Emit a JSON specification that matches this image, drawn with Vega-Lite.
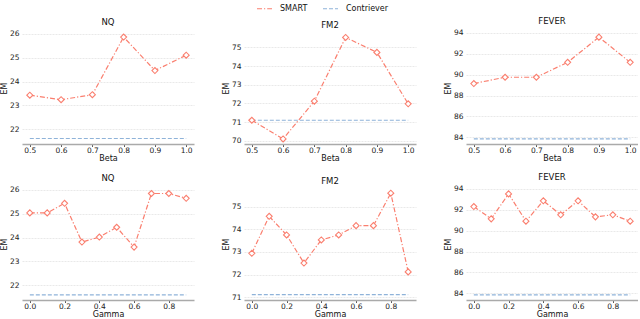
{
  "$schema": "https://vega.github.io/schema/vega-lite/v6.json",
  "padding": {"left": 0, "top": 0, "right": 0, "bottom": 0},
  "background": "white",
  "datasets": {
    "d": [
      {"panel": "NQ_b", "x": 0.5, "series": "SMART", "value": 23.43},
      {"panel": "NQ_b", "x": 0.6, "series": "SMART", "value": 23.24},
      {"panel": "NQ_b", "x": 0.7, "series": "SMART", "value": 23.45},
      {"panel": "NQ_b", "x": 0.8, "series": "SMART", "value": 25.86},
      {"panel": "NQ_b", "x": 0.9, "series": "SMART", "value": 24.46},
      {"panel": "NQ_b", "x": 1.0, "series": "SMART", "value": 25.1},
      {"panel": "NQ_b", "x": 0.5, "series": "Contriever", "value": 21.62},
      {"panel": "NQ_b", "x": 1.0, "series": "Contriever", "value": 21.62},
      {"panel": "FM2_b", "x": 0.5, "series": "SMART", "value": 71.1},
      {"panel": "FM2_b", "x": 0.6, "series": "SMART", "value": 70.1},
      {"panel": "FM2_b", "x": 0.7, "series": "SMART", "value": 72.12},
      {"panel": "FM2_b", "x": 0.8, "series": "SMART", "value": 75.53},
      {"panel": "FM2_b", "x": 0.9, "series": "SMART", "value": 74.73},
      {"panel": "FM2_b", "x": 1.0, "series": "SMART", "value": 71.98},
      {"panel": "FM2_b", "x": 0.5, "series": "Contriever", "value": 71.1},
      {"panel": "FM2_b", "x": 1.0, "series": "Contriever", "value": 71.1},
      {"panel": "FEVER_b", "x": 0.5, "series": "SMART", "value": 89.14},
      {"panel": "FEVER_b", "x": 0.6, "series": "SMART", "value": 89.74},
      {"panel": "FEVER_b", "x": 0.7, "series": "SMART", "value": 89.74},
      {"panel": "FEVER_b", "x": 0.8, "series": "SMART", "value": 91.16},
      {"panel": "FEVER_b", "x": 0.9, "series": "SMART", "value": 93.56},
      {"panel": "FEVER_b", "x": 1.0, "series": "SMART", "value": 91.16},
      {"panel": "FEVER_b", "x": 0.5, "series": "Contriever", "value": 83.87},
      {"panel": "FEVER_b", "x": 1.0, "series": "Contriever", "value": 83.87},
      {"panel": "NQ_g", "x": 0.0, "series": "SMART", "value": 25.03},
      {"panel": "NQ_g", "x": 0.1, "series": "SMART", "value": 25.03},
      {"panel": "NQ_g", "x": 0.2, "series": "SMART", "value": 25.43},
      {"panel": "NQ_g", "x": 0.3, "series": "SMART", "value": 23.81},
      {"panel": "NQ_g", "x": 0.4, "series": "SMART", "value": 24.02},
      {"panel": "NQ_g", "x": 0.5, "series": "SMART", "value": 24.43},
      {"panel": "NQ_g", "x": 0.6, "series": "SMART", "value": 23.6},
      {"panel": "NQ_g", "x": 0.7, "series": "SMART", "value": 25.84},
      {"panel": "NQ_g", "x": 0.8, "series": "SMART", "value": 25.84},
      {"panel": "NQ_g", "x": 0.9, "series": "SMART", "value": 25.64},
      {"panel": "NQ_g", "x": 0.0, "series": "Contriever", "value": 21.6},
      {"panel": "NQ_g", "x": 0.9, "series": "Contriever", "value": 21.6},
      {"panel": "FM2_g", "x": 0.0, "series": "SMART", "value": 72.94},
      {"panel": "FM2_g", "x": 0.1, "series": "SMART", "value": 74.57},
      {"panel": "FM2_g", "x": 0.2, "series": "SMART", "value": 73.75},
      {"panel": "FM2_g", "x": 0.3, "series": "SMART", "value": 72.51},
      {"panel": "FM2_g", "x": 0.4, "series": "SMART", "value": 73.53},
      {"panel": "FM2_g", "x": 0.5, "series": "SMART", "value": 73.75},
      {"panel": "FM2_g", "x": 0.6, "series": "SMART", "value": 74.16},
      {"panel": "FM2_g", "x": 0.7, "series": "SMART", "value": 74.16},
      {"panel": "FM2_g", "x": 0.8, "series": "SMART", "value": 75.59},
      {"panel": "FM2_g", "x": 0.9, "series": "SMART", "value": 72.12},
      {"panel": "FM2_g", "x": 0.0, "series": "Contriever", "value": 71.12},
      {"panel": "FM2_g", "x": 0.9, "series": "Contriever", "value": 71.12},
      {"panel": "FEVER_g", "x": 0.0, "series": "SMART", "value": 92.28},
      {"panel": "FEVER_g", "x": 0.1, "series": "SMART", "value": 91.11},
      {"panel": "FEVER_g", "x": 0.2, "series": "SMART", "value": 93.49},
      {"panel": "FEVER_g", "x": 0.3, "series": "SMART", "value": 90.89},
      {"panel": "FEVER_g", "x": 0.4, "series": "SMART", "value": 92.83},
      {"panel": "FEVER_g", "x": 0.5, "series": "SMART", "value": 91.5},
      {"panel": "FEVER_g", "x": 0.6, "series": "SMART", "value": 92.83},
      {"panel": "FEVER_g", "x": 0.7, "series": "SMART", "value": 91.3},
      {"panel": "FEVER_g", "x": 0.8, "series": "SMART", "value": 91.5},
      {"panel": "FEVER_g", "x": 0.9, "series": "SMART", "value": 90.89},
      {"panel": "FEVER_g", "x": 0.0, "series": "Contriever", "value": 83.87},
      {"panel": "FEVER_g", "x": 0.9, "series": "Contriever", "value": 83.87}
    ]
  },
  "data": {"name": "d"},
  "columns": 3,
  "spacing": {"row": 44, "column": 50},
  "bounds": "flush",
  "concat": [
    {
      "width": 172, "height": 112, "title": "NQ",
      "transform": [{"filter": "datum.panel == 'NQ_b'"}],
      "encoding": {
        "x": {"field": "x", "type": "quantitative", "title": "Beta", "scale": {"domain": [0.475, 1.025], "nice": false, "zero": false}, "axis": {"values": [0.5, 0.6, 0.7, 0.8, 0.9, 1.0], "format": ".1f"}},
        "y": {"field": "value", "type": "quantitative", "title": "EM", "scale": {"domain": [21.39, 26.07], "nice": false, "zero": false}, "axis": {"values": [22, 23, 24, 25, 26]}},
        "color": {"field": "series", "type": "nominal", "scale": {"domain": ["SMART", "Contriever"], "range": ["#FA7F6F", "#8FB3D9"]}, "legend": {"orient": "none", "legendX": 234, "legendY": -32, "direction": "horizontal", "title": null, "encode": {"symbols": {"update": {"shape": {"signal": "datum.value == 'SMART' ? 'M-1,0L-0.38,0M0.38,0L1,0M0,-0.38L0.38,0L0,0.38L-0.38,0Z' : 'M-1,0L-0.62,0M-0.24,0L0.24,0M0.62,0L1,0'"}, "fill": {"value": "white"}, "fillOpacity": {"value": 0}}}}}}
      },
      "layer": [
        {"mark": {"type": "line"}, "encoding": {"strokeDash": {"field": "series", "type": "nominal", "legend": null, "scale": {"domain": ["SMART", "Contriever"], "range": [[5, 2, 1.2, 2], [4, 2]]}}}},
        {"transform": [{"filter": "datum.series == 'SMART'"}], "mark": {"type": "point", "shape": "diamond", "filled": false, "fill": "white", "size": 36, "strokeWidth": 1.1, "opacity": 1}}
      ]
    },
    {
      "width": 172, "height": 112, "title": "FM2",
      "transform": [{"filter": "datum.panel == 'FM2_b'"}],
      "encoding": {
        "x": {"field": "x", "type": "quantitative", "title": "Beta", "scale": {"domain": [0.475, 1.025], "nice": false, "zero": false}, "axis": {"values": [0.5, 0.6, 0.7, 0.8, 0.9, 1.0], "format": ".1f"}},
        "y": {"field": "value", "type": "quantitative", "title": "EM", "scale": {"domain": [69.83, 75.82], "nice": false, "zero": false}, "axis": {"values": [70, 71, 72, 73, 74, 75]}},
        "color": {"field": "series", "type": "nominal", "scale": {"domain": ["SMART", "Contriever"], "range": ["#FA7F6F", "#8FB3D9"]}}
      },
      "layer": [
        {"mark": {"type": "line"}, "encoding": {"strokeDash": {"field": "series", "type": "nominal", "legend": null, "scale": {"domain": ["SMART", "Contriever"], "range": [[5, 2, 1.2, 2], [4, 2]]}}}},
        {"transform": [{"filter": "datum.series == 'SMART'"}], "mark": {"type": "point", "shape": "diamond", "filled": false, "fill": "white", "size": 36, "strokeWidth": 1.1, "opacity": 1}}
      ]
    },
    {
      "width": 172, "height": 112, "title": "FEVER",
      "transform": [{"filter": "datum.panel == 'FEVER_b'"}],
      "encoding": {
        "x": {"field": "x", "type": "quantitative", "title": "Beta", "scale": {"domain": [0.475, 1.025], "nice": false, "zero": false}, "axis": {"values": [0.5, 0.6, 0.7, 0.8, 0.9, 1.0], "format": ".1f"}},
        "y": {"field": "value", "type": "quantitative", "title": "EM", "scale": {"domain": [83.38, 94.05], "nice": false, "zero": false}, "axis": {"values": [84, 86, 88, 90, 92, 94]}},
        "color": {"field": "series", "type": "nominal", "scale": {"domain": ["SMART", "Contriever"], "range": ["#FA7F6F", "#8FB3D9"]}}
      },
      "layer": [
        {"mark": {"type": "line"}, "encoding": {"strokeDash": {"field": "series", "type": "nominal", "legend": null, "scale": {"domain": ["SMART", "Contriever"], "range": [[5, 2, 1.2, 2], [4, 2]]}}}},
        {"transform": [{"filter": "datum.series == 'SMART'"}], "mark": {"type": "point", "shape": "diamond", "filled": false, "fill": "white", "size": 36, "strokeWidth": 1.1, "opacity": 1}}
      ]
    },
    {
      "width": 172, "height": 112, "title": "NQ",
      "transform": [{"filter": "datum.panel == 'NQ_g'"}],
      "encoding": {
        "x": {"field": "x", "type": "quantitative", "title": "Gamma", "scale": {"domain": [-0.045, 0.945], "nice": false, "zero": false}, "axis": {"values": [0, 0.2, 0.4, 0.6, 0.8], "format": ".1f"}},
        "y": {"field": "value", "type": "quantitative", "title": "EM", "scale": {"domain": [21.39, 26.07], "nice": false, "zero": false}, "axis": {"values": [22, 23, 24, 25, 26]}},
        "color": {"field": "series", "type": "nominal", "scale": {"domain": ["SMART", "Contriever"], "range": ["#FA7F6F", "#8FB3D9"]}}
      },
      "layer": [
        {"mark": {"type": "line"}, "encoding": {"strokeDash": {"field": "series", "type": "nominal", "legend": null, "scale": {"domain": ["SMART", "Contriever"], "range": [[5, 2, 1.2, 2], [4, 2]]}}}},
        {"transform": [{"filter": "datum.series == 'SMART'"}], "mark": {"type": "point", "shape": "diamond", "filled": false, "fill": "white", "size": 36, "strokeWidth": 1.1, "opacity": 1}}
      ]
    },
    {
      "width": 172, "height": 112, "title": "FM2",
      "transform": [{"filter": "datum.panel == 'FM2_g'"}],
      "encoding": {
        "x": {"field": "x", "type": "quantitative", "title": "Gamma", "scale": {"domain": [-0.045, 0.945], "nice": false, "zero": false}, "axis": {"values": [0, 0.2, 0.4, 0.6, 0.8], "format": ".1f"}},
        "y": {"field": "value", "type": "quantitative", "title": "EM", "scale": {"domain": [70.88, 75.82], "nice": false, "zero": false}, "axis": {"values": [71, 72, 73, 74, 75]}},
        "color": {"field": "series", "type": "nominal", "scale": {"domain": ["SMART", "Contriever"], "range": ["#FA7F6F", "#8FB3D9"]}}
      },
      "layer": [
        {"mark": {"type": "line"}, "encoding": {"strokeDash": {"field": "series", "type": "nominal", "legend": null, "scale": {"domain": ["SMART", "Contriever"], "range": [[5, 2, 1.2, 2], [4, 2]]}}}},
        {"transform": [{"filter": "datum.series == 'SMART'"}], "mark": {"type": "point", "shape": "diamond", "filled": false, "fill": "white", "size": 36, "strokeWidth": 1.1, "opacity": 1}}
      ]
    },
    {
      "width": 172, "height": 112, "title": "FEVER",
      "transform": [{"filter": "datum.panel == 'FEVER_g'"}],
      "encoding": {
        "x": {"field": "x", "type": "quantitative", "title": "Gamma", "scale": {"domain": [-0.045, 0.945], "nice": false, "zero": false}, "axis": {"values": [0, 0.2, 0.4, 0.6, 0.8], "format": ".1f"}},
        "y": {"field": "value", "type": "quantitative", "title": "EM", "scale": {"domain": [83.38, 94.05], "nice": false, "zero": false}, "axis": {"values": [84, 86, 88, 90, 92, 94]}},
        "color": {"field": "series", "type": "nominal", "scale": {"domain": ["SMART", "Contriever"], "range": ["#FA7F6F", "#8FB3D9"]}}
      },
      "layer": [
        {"mark": {"type": "line"}, "encoding": {"strokeDash": {"field": "series", "type": "nominal", "legend": null, "scale": {"domain": ["SMART", "Contriever"], "range": [[5, 2, 1.2, 2], [4, 2]]}}}},
        {"transform": [{"filter": "datum.series == 'SMART'"}], "mark": {"type": "point", "shape": "diamond", "filled": false, "fill": "white", "size": 36, "strokeWidth": 1.1, "opacity": 1}}
      ]
    }
  ],
  "resolve": {"scale": {"color": "shared", "strokeDash": "shared", "x": "independent", "y": "independent"}},
  "config": {
    "font": "DejaVu Sans",
    "view": {"stroke": null},
    "line": {"strokeWidth": 1.2},
    "title": {"fontSize": 8.5, "fontWeight": "normal", "color": "#111", "offset": 3, "font": "DejaVu Sans"},
    "axis": {"labelFont": "DejaVu Sans", "titleFont": "DejaVu Sans", "labelFontSize": 7.5, "titleFontSize": 8, "titleFontWeight": "normal", "labelColor": "#222", "titleColor": "#111", "gridColor": "#e3e3e3", "gridWidth": 0.8, "gridDash": [2, 1]},
    "axisX": {"grid": false, "domain": true, "domainColor": "#aaaaaa", "domainWidth": 1.5, "ticks": true, "tickColor": "#333", "tickSize": 2.5, "tickWidth": 0.8, "labelPadding": 0, "titlePadding": 0, "labelFlush": false},
    "axisY": {"grid": true, "domain": false, "ticks": false, "labelPadding": 3, "titlePadding": 1},
    "legend": {
      "labelFontSize": 8, "labelFont": "DejaVu Sans", "labelColor": "#111", "columnPadding": 12, "symbolSize": 225, "symbolStrokeWidth": 1.2, "labelOffset": 7
    }
  }
}
